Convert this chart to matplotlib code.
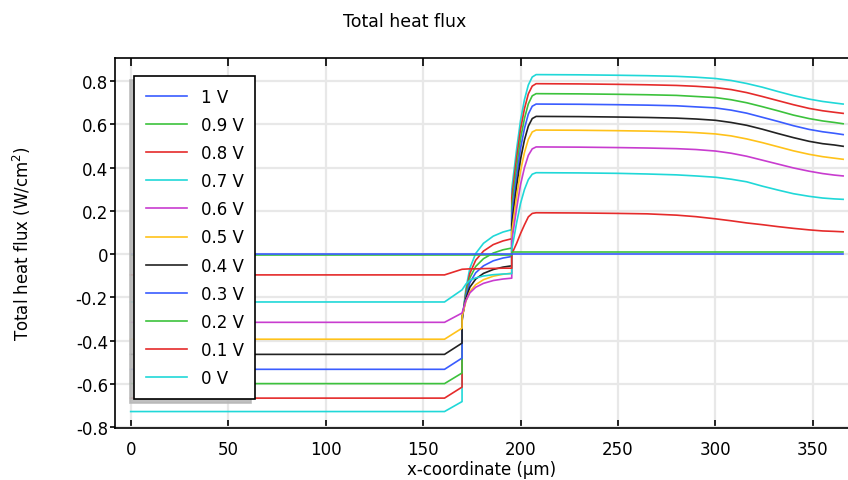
import matplotlib
matplotlib.use("Agg")
import matplotlib.pyplot as plt
from matplotlib.ticker import FuncFormatter, MultipleLocator

plt.rcParams["font.family"] = ["DejaVu Sans"]
plt.rcParams["axes.unicode_minus"] = False

# Sample positions along the device (µm); repeated entries give the sharp steps
x_um = [0, 161, 170, 170, 172, 174, 177, 181, 186, 191, 195.5, 195.5,
        198, 200, 202, 204, 206, 208, 230, 250, 265, 280, 290, 300, 308,
        316, 324, 332, 340, 348, 355, 361, 365.5]

# Total heat flux (W/cm^2) for each applied voltage
q_0v = [-0.727, -0.727, -0.681, -0.310, -0.158, -0.065, 0.003, 0.050, 0.083, 0.102, 0.113,
        0.300, 0.485, 0.617, 0.713, 0.781, 0.818, 0.829,
        0.828, 0.826, 0.824, 0.821, 0.817, 0.811, 0.802, 0.788, 0.771, 0.751, 0.732,
        0.716, 0.705, 0.698, 0.693]
q_01v = [-0.665, -0.665, -0.614, -0.310, -0.173, -0.089, -0.028, 0.014, 0.044, 0.061, 0.071,
         0.260, 0.444, 0.576, 0.671, 0.740, 0.776, 0.787,
         0.786, 0.784, 0.782, 0.779, 0.775, 0.769, 0.760, 0.746, 0.728, 0.709, 0.690,
         0.673, 0.662, 0.655, 0.650]
q_02v = [-0.598, -0.598, -0.549, -0.300, -0.182, -0.110, -0.057, -0.021, 0.005, 0.020, 0.028,
         0.220, 0.402, 0.533, 0.626, 0.694, 0.731, 0.741,
         0.740, 0.738, 0.736, 0.733, 0.728, 0.723, 0.713, 0.699, 0.681, 0.662, 0.642,
         0.626, 0.615, 0.608, 0.602]
q_03v = [-0.532, -0.532, -0.480, -0.300, -0.196, -0.132, -0.086, -0.054, -0.031, -0.018, -0.011,
         0.180, 0.360, 0.488, 0.580, 0.647, 0.683, 0.693,
         0.692, 0.690, 0.688, 0.685, 0.680, 0.675, 0.665, 0.651, 0.632, 0.613, 0.593,
         0.576, 0.565, 0.558, 0.552]
q_04v = [-0.463, -0.463, -0.411, -0.290, -0.205, -0.153, -0.115, -0.089, -0.071, -0.060, -0.054,
         0.140, 0.314, 0.438, 0.527, 0.591, 0.626, 0.636,
         0.635, 0.633, 0.631, 0.628, 0.624, 0.618, 0.608, 0.595, 0.577, 0.557, 0.538,
         0.521, 0.510, 0.504, 0.498]
q_05v = [-0.393, -0.393, -0.342, -0.290, -0.217, -0.173, -0.141, -0.118, -0.102, -0.093, -0.088,
         0.100, 0.266, 0.384, 0.469, 0.530, 0.564, 0.573,
         0.572, 0.570, 0.568, 0.565, 0.561, 0.555, 0.546, 0.532, 0.515, 0.496, 0.477,
         0.461, 0.450, 0.443, 0.438]
q_06v = [-0.315, -0.315, -0.272, -0.272, -0.214, -0.179, -0.153, -0.135, -0.122, -0.115, -0.111,
         0.060, 0.212, 0.321, 0.399, 0.456, 0.486, 0.495,
         0.494, 0.492, 0.490, 0.487, 0.483, 0.476, 0.466, 0.452, 0.434, 0.416, 0.398,
         0.383, 0.372, 0.365, 0.361]
q_07v = [-0.221, -0.221, -0.165, -0.165, -0.138, -0.121, -0.110, -0.101, -0.095, -0.092, -0.090,
         0.020, 0.145, 0.234, 0.298, 0.344, 0.369, 0.376,
         0.375, 0.373, 0.370, 0.366, 0.361, 0.355, 0.346, 0.334, 0.314, 0.296, 0.279,
         0.267, 0.259, 0.255, 0.253]
q_08v = [-0.096, -0.096, -0.070, -0.070, -0.069, -0.068, -0.068, -0.067, -0.066, -0.065, -0.065,
         0.000, 0.050, 0.095, 0.135, 0.172, 0.188, 0.191,
         0.190, 0.188, 0.186, 0.180, 0.173, 0.163, 0.154, 0.144, 0.136, 0.127, 0.119,
         0.112, 0.107, 0.105, 0.103]
q_09v = [-0.002] * 11 + [0.009] * 22
q_1v = [0.0] * 33

labels = ["0 V", "0.1 V", "0.2 V", "0.3 V", "0.4 V", "0.5 V",
          "0.6 V", "0.7 V", "0.8 V", "0.9 V", "1 V"]
series = [q_0v, q_01v, q_02v, q_03v, q_04v, q_05v, q_06v, q_07v, q_08v, q_09v, q_1v]
colors = ["#20d8d8", "#e52b2b", "#3cc23c", "#3a5cff", "#222222", "#ffc21a",
          "#c83ccf", "#20d8d8", "#e52b2b", "#3cc23c", "#3a5cff"]

fig = plt.figure(figsize=(8.48, 4.81), dpi=100)
ax = fig.add_axes([115 / 848, 1 - 429 / 481, 1 - 115 / 848, (429 - 58.5) / 481])

handles = []
for q, c, lab in zip(series, colors, labels):
    h, = ax.plot(x_um, q, color=c, lw=1.2, label=lab, solid_joinstyle="round")
    handles.append(h)

ax.set_xlim(-8.05, 368.0)
ax.set_ylim(-0.803, 0.908)
ax.xaxis.set_major_locator(MultipleLocator(50))
ax.yaxis.set_major_locator(MultipleLocator(0.2))
ax.yaxis.set_major_formatter(FuncFormatter(lambda v, p: "0" if abs(v) < 1e-9 else f"{v:.1f}"))

ax.grid(True, color="#e8e8e8", lw=1.6)
ax.set_axisbelow(True)
for side in ("left", "bottom", "top"):
    ax.spines[side].set_linewidth(1.2)
ax.spines["right"].set_visible(False)

ax.tick_params(axis="x", direction="in", length=6, width=1.2, top=True, labelsize=12, pad=9)
ax.tick_params(axis="y", direction="out", length=3.6, width=1.2, labelsize=12, pad=1.5)

ax.set_xlabel("x-coordinate (µm)", fontsize=12, labelpad=1)
ax.set_ylabel("Total heat flux (W/cm$^2$)", fontsize=12, labelpad=31)
fig.text(405 / 848, 1 - 22 / 481, "Total heat flux", ha="center", va="center", fontsize=12.5)

leg = ax.legend(handles[::-1], labels[::-1], loc="upper left",
                bbox_to_anchor=(0.0263, 0.9496), borderaxespad=0,
                fontsize=12, frameon=True, fancybox=False, framealpha=1,
                edgecolor="black", handlelength=2.5, handletextpad=0.8,
                labelspacing=0.61, borderpad=0.68,
                shadow={"ox": -3, "oy": -3, "color": "0.72", "alpha": 0.9})
leg.get_frame().set_linewidth(1.2)

fig.savefig("out.png", dpi=100)
